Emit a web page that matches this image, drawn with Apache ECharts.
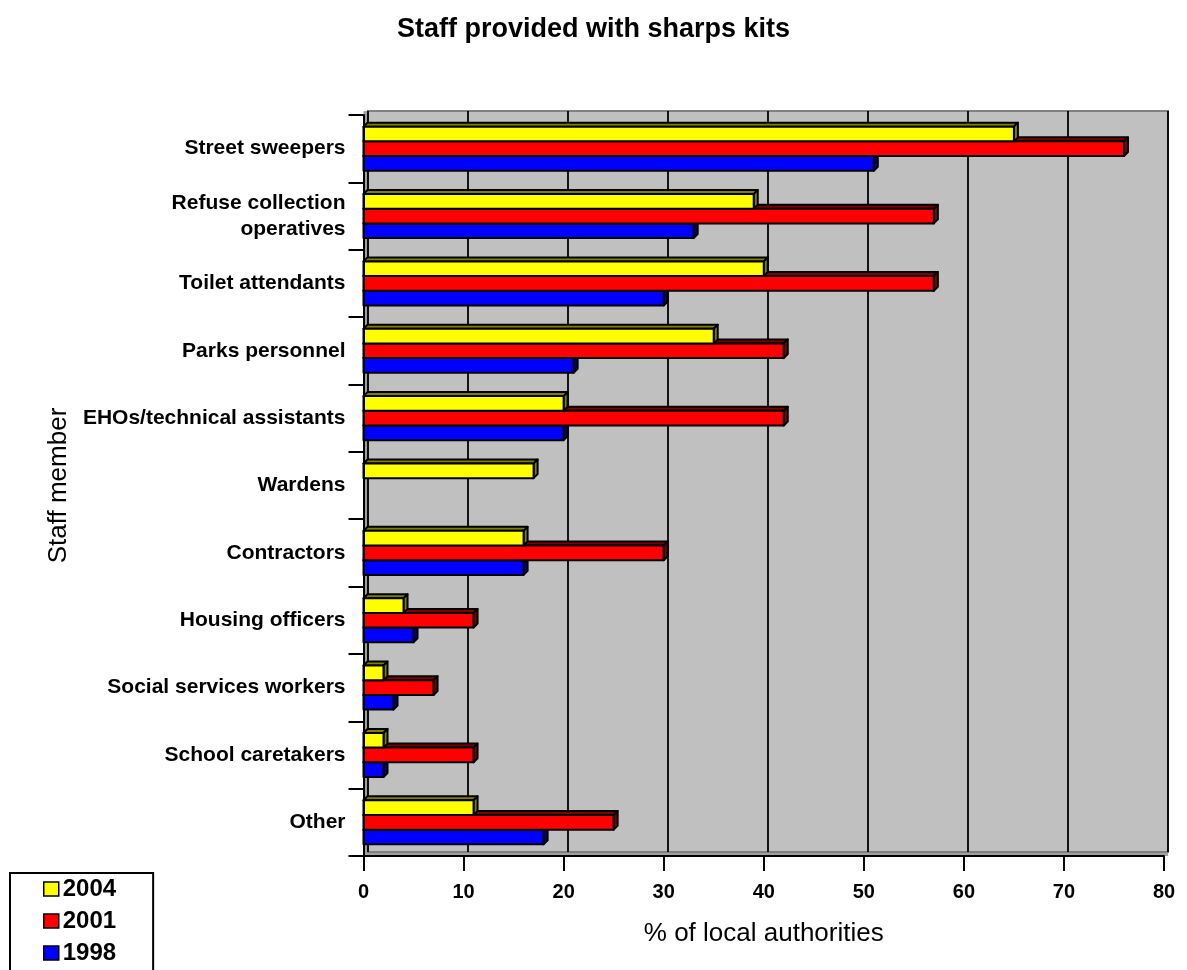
<!DOCTYPE html>
<html>
<head>
<meta charset="utf-8">
<title>Staff provided with sharps kits</title>
<script src="https://cdn.jsdelivr.net/npm/echarts@6/dist/echarts.min.js"></script>
<style>
  html, body { margin: 0; padding: 0; background: #fff; }
  #chart { width: 1187px; height: 970px; }
</style>
</head>
<body>
<div id="chart"></div>
<script>
const categories = [
  'Street sweepers',
  'Refuse collection\noperatives',
  'Toilet attendants',
  'Parks personnel',
  'EHOs/technical assistants',
  'Wardens',
  'Contractors',
  'Housing officers',
  'Social services workers',
  'School caretakers',
  'Other',
]
const years = ['2004', '2001', '1998']
const values2004 = [65, 39, 40, 35, 20, 17, 16, 4, 2, 2, 11]
const values2001 = [76, 57, 57, 42, 42, 0, 30, 11, 7, 11, 25]
const values1998 = [51, 33, 30, 21, 20, 0, 16, 5, 3, 2, 18]
const xTicks = [0, 10, 20, 30, 40, 50, 60, 70, 80]

const FONT = 'Arial, "Liberation Sans", sans-serif'
const DEPTH = 4

// one 3D-looking bar: top face, side face, front face
function barRenderer(slot, face, shade) {
  return function (params, api) {
    const cat = api.value(1)
    const val = api.value(0)
    if (!val) return null
    const p0 = api.coord([0, cat])
    const p1 = api.coord([val, cat])
    const band = api.size([0, 1])[1]
    const h = band * 0.218
    const x0 = p0[0]
    const x1 = p1[0]
    const y0 = p0[1] + (slot - 1) * h - h / 2
    const d = DEPTH
    const stroke = { stroke: '#000', lineWidth: 2, lineJoin: 'round' }
    return {
      type: 'group',
      children: [
        {
          type: 'polygon',
          shape: { points: [[x0, y0], [x0 + d, y0 - d], [x1 + d, y0 - d], [x1, y0]] },
          style: Object.assign({ fill: shade }, stroke),
        },
        {
          type: 'polygon',
          shape: { points: [[x1, y0], [x1 + d, y0 - d], [x1 + d, y0 + h - d], [x1, y0 + h]] },
          style: Object.assign({ fill: shade }, stroke),
        },
        {
          type: 'rect',
          shape: { x: x0, y: y0, width: x1 - x0, height: h },
          style: Object.assign({ fill: face }, stroke),
        },
      ],
    }
  }
}

function makeSeries(name, values, slot, face, shade, z) {
  return {
    name,
    type: 'custom',
    xAxisIndex: 0,
    yAxisIndex: 0,
    z,
    itemStyle: { color: face, borderColor: '#000', borderWidth: 1.5 },
    encode: { x: 0, y: 1 },
    data: values.map((v, i) => [v, i]),
    renderItem: barRenderer(slot, face, shade),
  }
}

const chart = echarts.init(document.getElementById('chart'))

chart.setOption({
  backgroundColor: '#fff',
  animation: false,
  title: {
    text: 'Staff provided with sharps kits',
    left: 'center',
    top: 11,
    textStyle: { fontFamily: FONT, fontSize: 27, fontWeight: 'bold', color: '#000' },
  },
  legend: {
    orient: 'vertical',
    left: 10,
    top: 873,
    height: 120,
    data: years,
    icon: 'rect',
    itemWidth: 15,
    itemHeight: 14,
    itemGap: 8,
    padding: [4, 37, 30, 33],
    borderColor: '#000',
    borderWidth: 2,
    backgroundColor: '#fff',
    itemStyle: { borderColor: '#000', borderWidth: 1.5 },
    textStyle: { fontFamily: FONT, fontSize: 24, fontWeight: 'bold', color: '#000', padding: [0, 0, 0, -1] },
  },
  grid: [
    // front plane: axes and bars
    { left: 363.5, right: 23, top: 115, bottom: 114 },
    // back wall with gridlines
    {
      left: 368, right: 19, top: 111, bottom: 118, z: 1,
      show: true, backgroundColor: '#c0c0c0', borderColor: '#808080', borderWidth: 2,
    },
    // side wall and floor behind the back wall
    {
      left: 363.5, right: 19, top: 111, bottom: 114, z: 0,
      show: true, backgroundColor: '#a0a0a0', borderWidth: 0,
    },
  ],
  xAxis: [
    {
      type: 'value',
      gridIndex: 0,
      z: 6,
      min: 0,
      max: 80,
      interval: 10,
      name: '% of local authorities',
      nameLocation: 'middle',
      nameGap: 65,
      nameTextStyle: { fontFamily: FONT, fontSize: 26, color: '#000', verticalAlign: 'top' },
      axisLine: { show: true, lineStyle: { color: '#000', width: 2 } },
      axisTick: { show: true, length: 15, lineStyle: { color: '#000', width: 2 } },
      axisLabel: {
        margin: 26,
        fontFamily: FONT,
        fontSize: 20,
        fontWeight: 'bold',
        color: '#000',
        formatter: (v) => (xTicks.includes(v) ? String(v) : ''),
      },
      splitLine: { show: false },
    },
    {
      type: 'value',
      gridIndex: 1,
      z: 2,
      min: 0,
      max: 80,
      interval: 10,
      axisLine: { show: false },
      axisTick: { show: false },
      axisLabel: { show: false },
      splitLine: { show: true, lineStyle: { color: '#000', width: 1.8 } },
    },
    { type: 'value', gridIndex: 2, show: false, min: 0, max: 80 },
  ],
  yAxis: [
    {
      type: 'category',
      gridIndex: 0,
      z: 6,
      data: categories,
      inverse: true,
      name: 'Staff member',
      nameLocation: 'middle',
      nameRotate: 90,
      nameGap: 277,
      nameTextStyle: { fontFamily: FONT, fontSize: 26, color: '#000' },
      axisLine: { show: true, lineStyle: { color: '#000', width: 2 } },
      axisTick: { show: true, length: 15, lineStyle: { color: '#000', width: 2 } },
      axisLabel: {
        margin: 18,
        fontFamily: FONT,
        fontSize: 21,
        fontWeight: 'bold',
        color: '#000',
        lineHeight: 26,
        align: 'right',
      },
      splitLine: { show: false },
    },
    { type: 'category', gridIndex: 1, data: categories, inverse: true, show: false },
    { type: 'category', gridIndex: 2, data: categories, inverse: true, show: false },
  ],
  series: [
    makeSeries('2004', values2004, 0, '#ffff00', '#808000', 5),
    makeSeries('2001', values2001, 1, '#ff0000', '#800000', 4),
    makeSeries('1998', values1998, 2, '#0000ff', '#000080', 3),
  ],
})
</script>
</body>
</html>
